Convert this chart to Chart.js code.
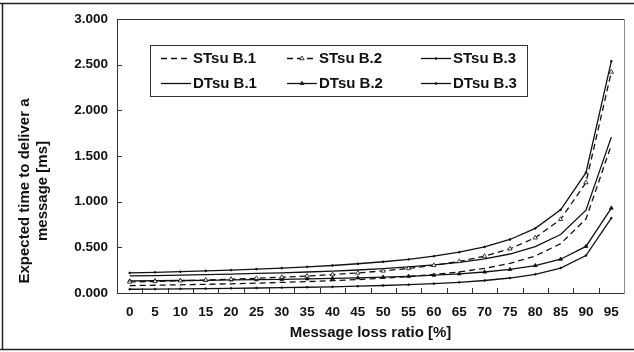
<!DOCTYPE html>
<html><head><meta charset="utf-8">
<script src="https://cdn.jsdelivr.net/npm/chart.js@4/dist/chart.umd.min.js"></script>
<style>html,body{margin:0;padding:0;background:#fff}#wrap{width:634px;height:352px;position:relative}</style>
</head><body><div id="wrap"><canvas id="c" width="634" height="352"></canvas></div>
<script>
const categories = ['0','5','10','15','20','25','30','35','40','45','50','55','60','65','70','75','80','85','90','95'];
const yTickValues = [0, 0.5, 1, 1.5, 2, 2.5, 3];
const seriesLabels = ['STsu B.1','STsu B.2','STsu B.3','DTsu B.1','DTsu B.2','DTsu B.3'];
const stB1 = [0.081,0.085,0.090,0.095,0.101,0.108,0.116,0.125,0.135,0.147,0.162,0.180,0.203,0.231,0.270,0.324,0.405,0.540,0.810,1.620];
const stB2 = [0.121,0.127,0.134,0.142,0.151,0.161,0.173,0.186,0.202,0.220,0.242,0.269,0.303,0.346,0.403,0.484,0.605,0.807,1.210,2.420];
const stB3 = [0.041,0.043,0.046,0.048,0.051,0.055,0.059,0.063,0.068,0.075,0.082,0.091,0.103,0.117,0.137,0.164,0.205,0.273,0.410,0.820];
const dtB1 = [0.187,0.191,0.196,0.201,0.207,0.214,0.221,0.230,0.240,0.252,0.267,0.285,0.307,0.336,0.374,0.427,0.507,0.640,0.907,1.707];
const dtB2 = [0.132,0.134,0.137,0.139,0.143,0.146,0.150,0.155,0.160,0.166,0.174,0.183,0.195,0.210,0.230,0.258,0.300,0.370,0.510,0.930];
const dtB3 = [0.220,0.226,0.234,0.242,0.251,0.261,0.272,0.286,0.301,0.320,0.342,0.369,0.403,0.447,0.505,0.586,0.708,0.911,1.318,2.538];
const xTitle = 'Message loss ratio [%]';
const yTitle = ['Expected time to deliver a', 'message [ms]'];

const INK = '#111';
const FONT = '"Liberation Sans", Arial, sans-serif';

function ds(label, data, dash, pStyle, pRadius, pFill) {
  return {
    label, data,
    borderColor: INK, borderWidth: 1.3, borderDash: dash,
    pointStyle: pStyle || 'circle', pointRadius: pRadius || 0,
    pointBackgroundColor: pFill || INK, pointBorderColor: INK, pointBorderWidth: 0.8,
    tension: 0, fill: false
  };
}

const datasets = [
  ds(seriesLabels[0], stB1, [6,4]),
  ds(seriesLabels[1], stB2, [6,4], 'triangle', 2.5, '#fff'),
  ds(seriesLabels[2], stB3, [], 'circle', 0.9, INK),
  ds(seriesLabels[3], dtB1, []),
  ds(seriesLabels[4], dtB2, [], 'triangle', 2.2, INK),
  ds(seriesLabels[5], dtB3, [], 'circle', 0.9, INK)
];

const decor = {
  id: 'decor',
  beforeDraw(chart) {
    const ctx = chart.ctx;
    ctx.save();
    ctx.fillStyle = '#fff';
    ctx.fillRect(0, 0, chart.width, chart.height);
    ctx.strokeStyle = '#222';
    ctx.lineWidth = 1.5;
    ctx.beginPath();
    ctx.moveTo(0, 3.5); ctx.lineTo(634, 3.5);
    ctx.moveTo(2.5, 3.5); ctx.lineTo(2.5, 349.5);
    ctx.moveTo(0, 349.5); ctx.lineTo(634, 349.5);
    ctx.stroke();
    ctx.restore();
  },
  beforeDatasetsDraw(chart) {
    const ctx = chart.ctx, a = chart.chartArea;
    const xs = chart.scales.x, ys = chart.scales.y;
    ctx.save();
    ctx.lineWidth = 1;
    ctx.strokeStyle = '#333';
    ctx.beginPath();
    ctx.moveTo(a.left + 0.5, a.bottom + 0.5); ctx.lineTo(a.left + 0.5, a.top + 0.5); ctx.lineTo(a.right + 0.5, a.top + 0.5);
    ctx.moveTo(a.left + 0.5, a.bottom + 0.5); ctx.lineTo(a.right + 0.5, a.bottom + 0.5);
    ctx.stroke();
    ctx.strokeStyle = '#8a8a8a';
    ctx.beginPath();
    ctx.moveTo(a.right + 0.5, a.top + 0.5); ctx.lineTo(a.right + 0.5, a.bottom + 0.5);
    ctx.stroke();
    ctx.strokeStyle = '#333';
    ctx.beginPath();
    yTickValues.forEach(v => {
      const y = Math.round(ys.getPixelForValue(v)) + 0.5;
      ctx.moveTo(a.left, y); ctx.lineTo(a.left + 5, y);
    });
    const n = categories.length;
    for (let i = 1; i < n; i++) {
      const x = Math.round((xs.getPixelForValue(i - 1) + xs.getPixelForValue(i)) / 2) + 0.5;
      ctx.moveTo(x, a.bottom); ctx.lineTo(x, a.bottom - 5);
    }
    ctx.stroke();
    ctx.restore();
  },
  afterDraw(chart) {
    const ctx = chart.ctx;
    ctx.save();
    // y title
    ctx.fillStyle = INK;
    ctx.font = 'bold 15px ' + FONT;
    ctx.textAlign = 'center';
    ctx.textBaseline = 'middle';
    const yc = 191;
    [[yTitle[0], 25], [yTitle[1], 43]].forEach(([t, x]) => {
      ctx.save();
      ctx.translate(x, yc);
      ctx.rotate(-Math.PI / 2);
      ctx.fillText(t, 0, 0);
      ctx.restore();
    });
    // legend
    const box = {l: 150, t: 45, r: 527, b: 96};
    ctx.fillStyle = '#fff';
    ctx.fillRect(box.l, box.t, box.r - box.l, box.b - box.t);
    ctx.strokeStyle = '#333';
    ctx.lineWidth = 1;
    ctx.strokeRect(box.l + 0.5, box.t + 0.5, box.r - box.l, box.b - box.t);
    const cols = [161, 287, 421];
    const rows = [58, 83];
    const sampleLen = 30;
    ctx.font = 'bold 15px ' + FONT;
    ctx.textAlign = 'left';
    ctx.textBaseline = 'middle';
    datasets.forEach((d, i) => {
      const x0 = cols[i % 3], y = rows[Math.floor(i / 3)] + 0.5;
      ctx.strokeStyle = INK;
      ctx.lineWidth = d.borderWidth;
      ctx.setLineDash(d.borderDash);
      ctx.beginPath();
      ctx.moveTo(x0, y); ctx.lineTo(x0 + sampleLen, y);
      ctx.stroke();
      ctx.setLineDash([]);
      if (d.pointRadius > 0) {
        ctx.fillStyle = d.pointBackgroundColor;
        ctx.strokeStyle = INK;
        ctx.lineWidth = 0.8;
        Chart.helpers.drawPoint(ctx, {pointStyle: d.pointStyle, radius: d.pointRadius, rotation: 0, borderWidth: 0.8}, x0 + sampleLen / 2, y);
      }
      ctx.fillStyle = INK;
      ctx.fillText(d.label, x0 + sampleLen + 2, y);
    });
    ctx.restore();
  }
};

new Chart(document.getElementById('c'), {
  type: 'line',
  data: {labels: categories, datasets},
  options: {
    responsive: false, animation: false, devicePixelRatio: 1,
    layout: {padding: {top: 19, right: 10, left: 0, bottom: 0}},
    plugins: {legend: {display: false}, tooltip: {enabled: false}},
    scales: {
      x: {
        type: 'category', offset: true,
        grid: {display: false, drawTicks: false},
        border: {display: false},
        ticks: {color: INK, font: {family: FONT, size: 13.5, weight: 'bold'}, padding: 11, maxRotation: 0, autoSkip: false},
        title: {display: true, text: xTitle, color: INK, font: {family: FONT, size: 15, weight: 'bold'}, padding: {top: 0, bottom: 10}},
        afterFit(s) { s.height = 59; }
      },
      y: {
        min: 0, max: 3,
        grid: {display: false, drawTicks: false},
        border: {display: false},
        ticks: {stepSize: 0.5, color: INK, font: {family: FONT, size: 13.5, weight: 'bold'}, padding: 9,
          callback: v => Number(v).toFixed(3)},
        afterFit(s) { s.width = 117; }
      }
    }
  },
  plugins: [decor]
});
</script></body></html>
